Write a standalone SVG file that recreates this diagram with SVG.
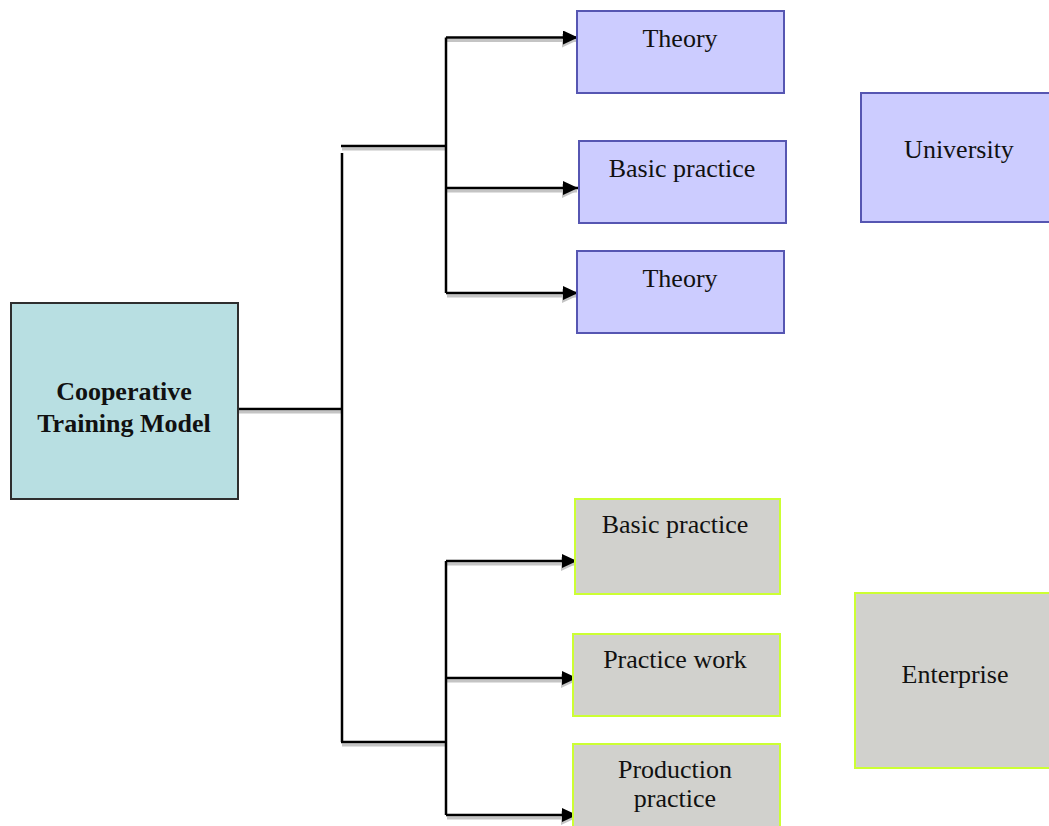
<svg xmlns="http://www.w3.org/2000/svg" width="1049" height="826" viewBox="0 0 1049 826">
<style>
.bg{fill:#ffffff}
.uni{fill:#ccccff;stroke:#5656b2;stroke-width:2}
.ent{fill:#d1d1cd;stroke:#ccff33;stroke-width:2}
.main{fill:#b8dfe2;stroke:#2e2e2e;stroke-width:2}
.t{font-family:"Liberation Serif","Times New Roman",serif;font-size:26px;fill:#111;text-anchor:middle}
.tb{font-weight:bold}
.ln{stroke:#000;stroke-width:2.5;fill:none}
.sh{stroke:#c4c4c4;stroke-width:3;fill:none}
</style>
<defs>
<marker id="ah" markerUnits="userSpaceOnUse" markerWidth="15" markerHeight="14" refX="15" refY="7" orient="auto">
<path d="M0,0 L15,7 L0,14 z" fill="#000"/>
</marker>
<marker id="ahs" markerUnits="userSpaceOnUse" markerWidth="15" markerHeight="14" refX="15" refY="7" orient="auto">
<path d="M0,0 L15,7 L0,14 z" fill="#c4c4c4"/>
</marker>
</defs>
<rect class="bg" x="0" y="0" width="1049" height="826"/>

<g id="connectors">
<g id="shadows" transform="translate(1,3)">
<path class="sh" d="M238,409 H342"/>
<path class="sh" d="M341,146 H446"/>
<path class="sh" d="M341,742 H446"/>
<path class="sh" d="M446,37.5 H576" marker-end="url(#ahs)"/>
<path class="sh" d="M446,188 H576" marker-end="url(#ahs)"/>
<path class="sh" d="M446,293 H576" marker-end="url(#ahs)"/>
<path class="sh" d="M446,561 H575" marker-end="url(#ahs)"/>
<path class="sh" d="M446,678 H575" marker-end="url(#ahs)"/>
<path class="sh" d="M446,815 H575" marker-end="url(#ahs)"/>
</g>
<path class="ln" d="M238,409 H342"/>
<path class="ln" d="M342,153 V742"/>
<path class="ln" d="M341,146 H446"/>
<path class="ln" d="M341,742 H446"/>
<path class="ln" d="M446,37.5 V293"/>
<path class="ln" d="M446,561 V815"/>
<path class="ln" d="M446,37.5 H578" marker-end="url(#ah)"/>
<path class="ln" d="M446,188 H578" marker-end="url(#ah)"/>
<path class="ln" d="M446,293 H578" marker-end="url(#ah)"/>
<path class="ln" d="M446,561 H577" marker-end="url(#ah)"/>
<path class="ln" d="M446,678 H577" marker-end="url(#ah)"/>
<path class="ln" d="M446,815 H577" marker-end="url(#ah)"/>
</g>

<g id="node-main">
<rect class="main" x="11" y="303" width="227" height="196"/>
<text class="t tb" x="124" y="400">Cooperative</text>
<text class="t tb" x="124" y="432">Training Model</text>
</g>

<g id="node-theory1">
<rect class="uni" x="577" y="11" width="207" height="82"/>
<text class="t" x="680" y="47">Theory</text>
</g>
<g id="node-basic1">
<rect class="uni" x="579" y="141" width="207" height="82"/>
<text class="t" x="682" y="177">Basic practice</text>
</g>
<g id="node-theory2">
<rect class="uni" x="577" y="251" width="207" height="82"/>
<text class="t" x="680" y="287">Theory</text>
</g>
<g id="node-university">
<rect class="uni" x="861" y="93" width="195" height="129"/>
<text class="t" x="959" y="158">University</text>
</g>

<g id="node-basic2">
<rect class="ent" x="575" y="499" width="205" height="95"/>
<text class="t" x="675" y="533">Basic practice</text>
</g>
<g id="node-practicework">
<rect class="ent" x="573" y="634" width="207" height="82"/>
<text class="t" x="675" y="668">Practice work</text>
</g>
<g id="node-production">
<rect class="ent" x="573" y="744" width="207" height="90"/>
<text class="t" x="675" y="778">Production</text>
<text class="t" x="675" y="807">practice</text>
</g>
<g id="node-enterprise">
<rect class="ent" x="855" y="593" width="200" height="175"/>
<text class="t" x="955" y="683">Enterprise</text>
</g>
</svg>
